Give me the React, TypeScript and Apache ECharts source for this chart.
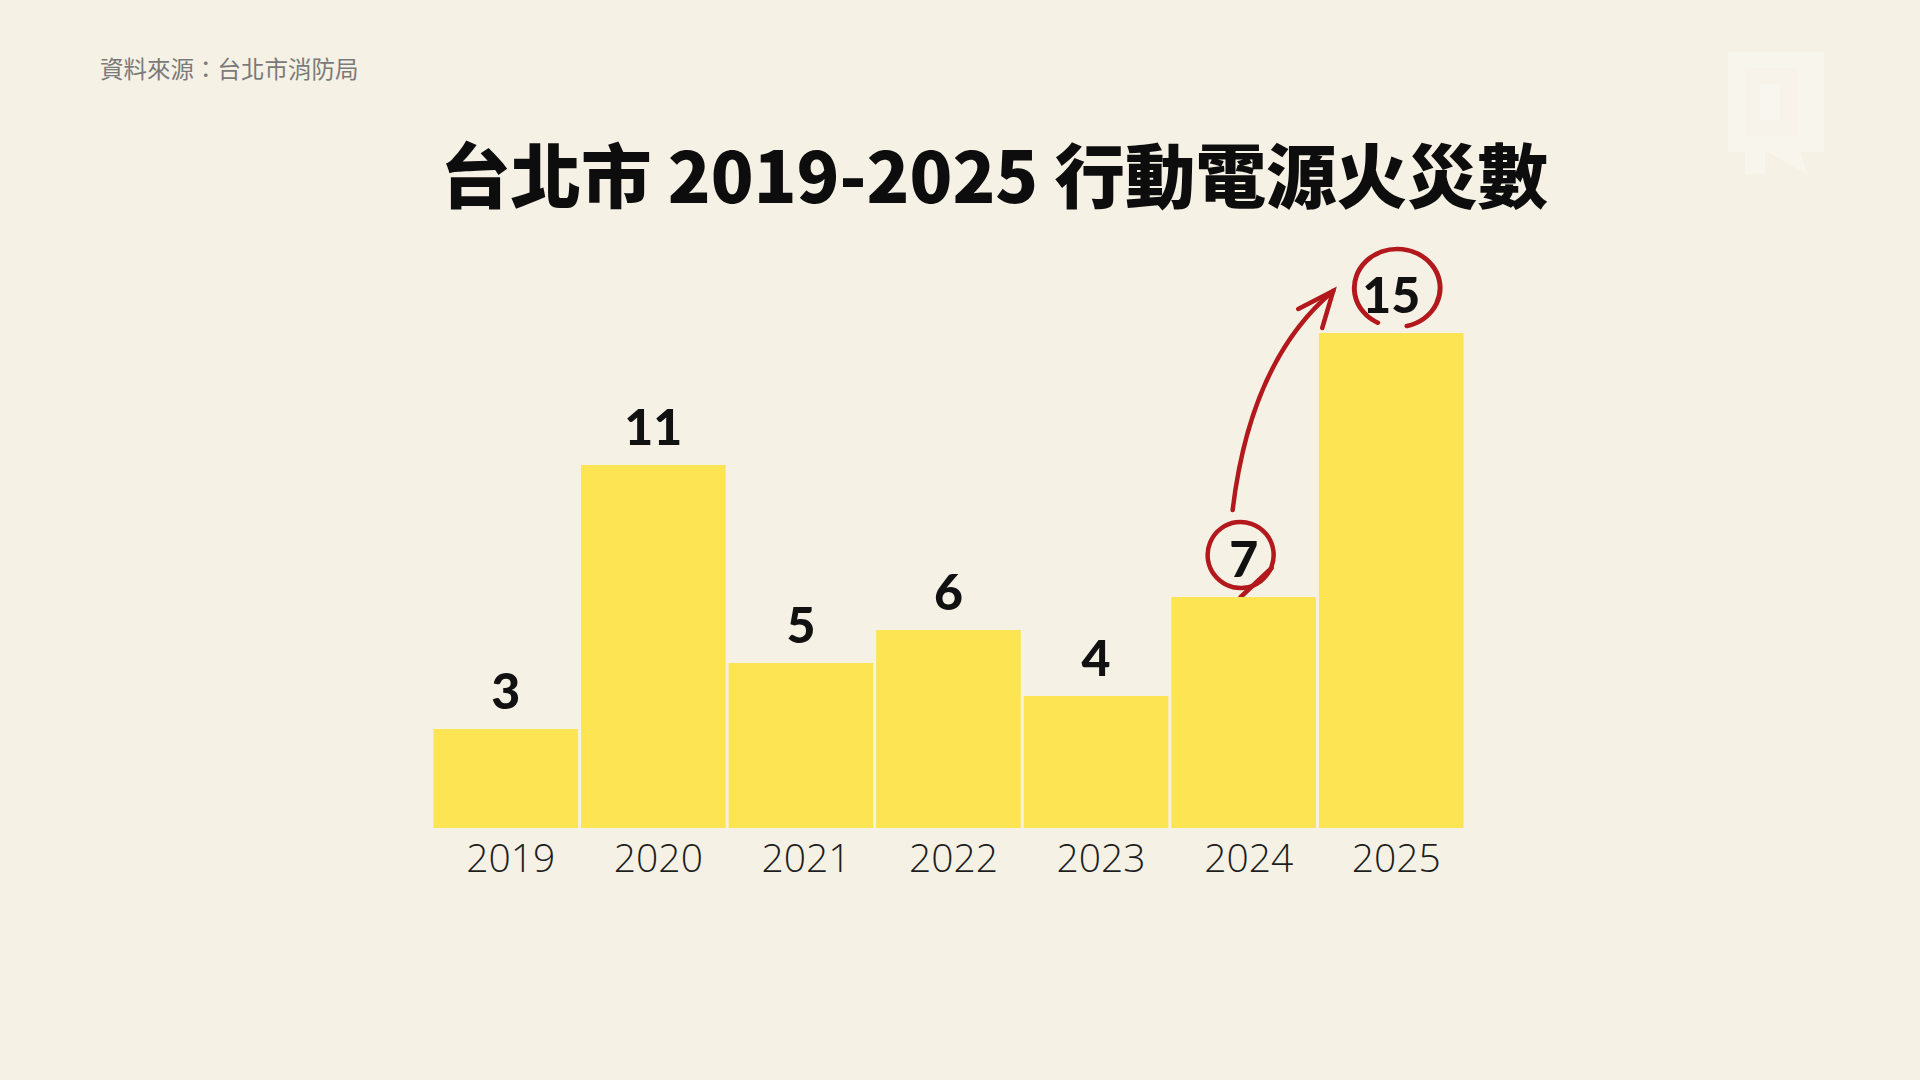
import React, { useEffect, useRef } from "react";
import * as echarts from "echarts";

const years = ["2019", "2020", "2021", "2022", "2023", "2024", "2025"];
const fires = [3, 11, 5, 6, 4, 7, 15];
const titleText = "台北市 2019-2025 行動電源火災數";
const sourceText = "資料來源：台北市消防局";

const BG = "#f5f1e5";
const BAR = "#fde452";
const RED = "#b3191c";
const CJK = "'Noto Sans CJK TC', 'Noto Sans', sans-serif";

export default function App() {
  const ref = useRef<HTMLDivElement>(null);

  useEffect(() => {
    if (!ref.current) return;
    const chart = echarts.init(ref.current, undefined, { renderer: "svg" });
    chart.setOption({
      animation: false,
      backgroundColor: BG,
      grid: { left: 432, width: 1033, top: 333, height: 495 },
      xAxis: {
        type: "category",
        data: years,
        axisLine: { show: false },
        axisTick: { show: false },
        axisLabel: {
          color: "#1e1e1e",
          fontSize: 39,
          fontFamily: "'Open Sans', sans-serif",
          fontWeight: 300,
          margin: 9,
          padding: [0, 0, 0, 10],
        },
      },
      yAxis: { type: "value", min: 0, max: 15, show: false },
      series: [
        {
          type: "bar",
          data: fires,
          barCategoryGap: "2%",
          itemStyle: { color: BAR },
          label: {
            show: true,
            position: "top",
            distance: 14,
            color: "#111",
            fontSize: 50,
            fontWeight: 900,
            fontFamily: "Lato, sans-serif",
          },
        },
      ],
    });

    const p24 = chart.convertToPixel({ seriesIndex: 0 }, [5, fires[5]]) as number[];
    const p25 = chart.convertToPixel({ seriesIndex: 0 }, [6, fires[6]]) as number[];
    const deg = Math.PI / 180;

    const c7 = [p24[0] - 3, p24[1] - 42];
    const c15 = [p25[0] + 6, p25[1] - 45];
    const a0 = [p24[0] - 11, p24[1] - 87];
    const a1 = [p25[0] - 58, p25[1] - 42];
    const redLine = { stroke: RED, lineWidth: 4.5, fill: "none", lineCap: "round" };
    const faint = "rgba(255,255,255,0.32)";

    chart.setOption({
      graphic: [
        {
          type: "text",
          left: 100,
          top: 56,
          style: { text: sourceText, fill: "#7a7a7a", fontSize: 23.5, fontFamily: CJK },
        },
        {
          type: "text",
          x: 994,
          y: 172,
          style: {
            text: titleText,
            fill: "#0d0d0d",
            fontSize: 70.5,
            fontWeight: 900,
            fontFamily: CJK,
            align: "center",
            verticalAlign: "middle",
          },
        },
        {
          type: "group",
          silent: true,
          children: [
            { type: "rect", shape: { x: 1728, y: 52, width: 96, height: 100 }, style: { fill: faint } },
            { type: "rect", shape: { x: 1745, y: 68, width: 52, height: 68 }, style: { fill: "rgba(245,241,229,0.35)" } },
            { type: "rect", shape: { x: 1760, y: 84, width: 20, height: 36 }, style: { fill: "rgba(255,255,255,0.25)" } },
            { type: "rect", shape: { x: 1745, y: 152, width: 20, height: 22 }, style: { fill: faint } },
            { type: "polygon", shape: { points: [[1768, 152], [1800, 152], [1808, 175]] }, style: { fill: faint } },
          ],
        },
        {
          type: "arc",
          x: c15[0],
          y: c15[1],
          scaleX: 1.1,
          shape: { cx: 0, cy: 0, r: 39, startAngle: 117 * deg, endAngle: 437 * deg, clockwise: true },
          style: redLine,
        },
        {
          type: "arc",
          x: c7[0],
          y: c7[1],
          shape: { cx: 0, cy: 0, r: 33, startAngle: 25 * deg, endAngle: 380 * deg, clockwise: true },
          style: redLine,
        },
        {
          type: "line",
          shape: { x1: c7[0] + 31, y1: c7[1] + 13, x2: c7[0], y2: c7[1] + 42 },
          style: redLine,
        },
        {
          type: "bezierCurve",
          shape: {
            x1: a0[0],
            y1: a0[1],
            cpx1: a0[0] + 18,
            cpy1: a0[1] - 150,
            x2: a1[0],
            y2: a1[1],
          },
          style: redLine,
        },
        {
          type: "polyline",
          shape: { points: [[a1[0] - 35, a1[1] + 18], [a1[0], a1[1]], [a1[0] - 11, a1[1] + 37]] },
          style: redLine,
        },
      ],
    });

    return () => chart.dispose();
  }, []);

  return <div ref={ref} style={{ position: "fixed", left: 0, top: 0, width: 1920, height: 1080 }} />;
}
